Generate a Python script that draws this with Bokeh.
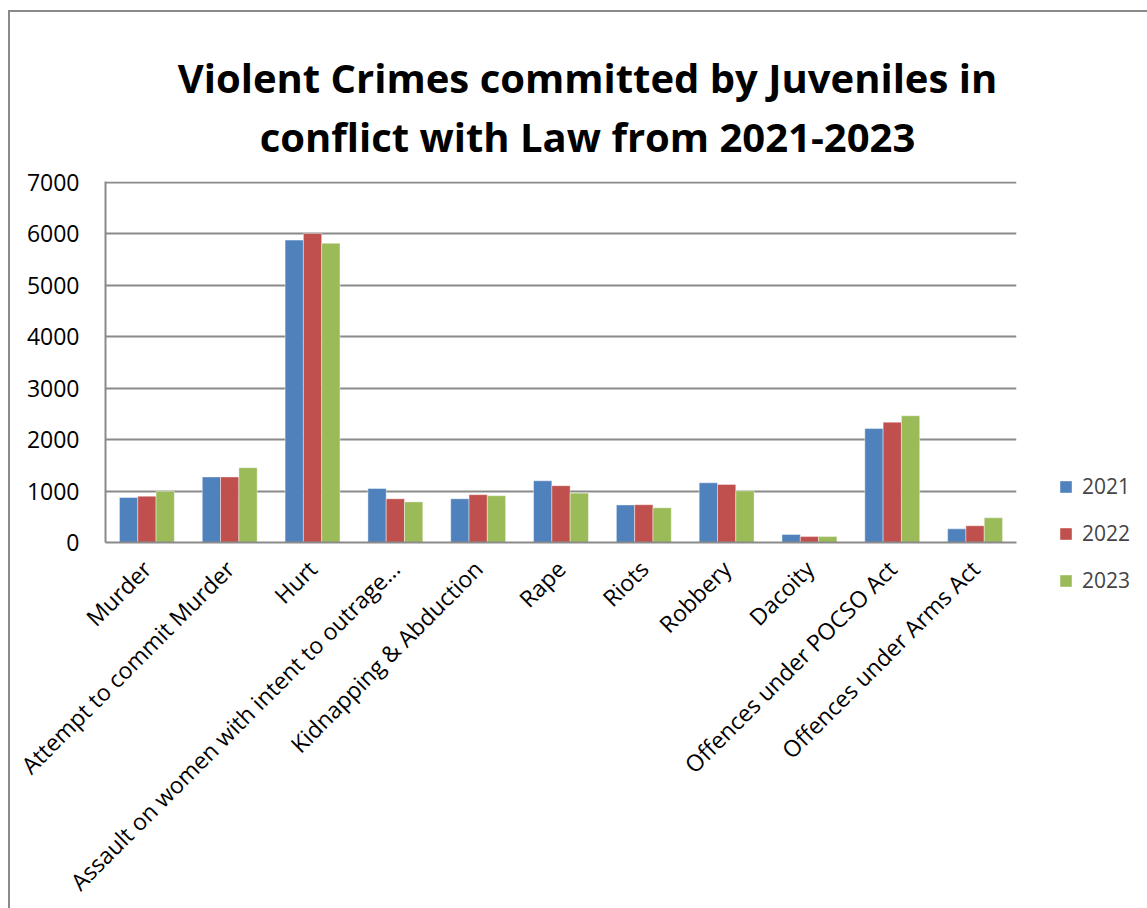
import math
from bokeh.plotting import figure
from bokeh.models import (ColumnDataSource, FactorRange, Legend, LegendItem, Label,
                          FixedTicker)
from bokeh.transform import dodge
from bokeh.embed import file_html
from bokeh.resources import INLINE

categories = ["Murder", "Attempt to commit Murder", "Hurt",
              "Assault on women with intent to outrage\u2026",
              "Kidnapping & Abduction", "Rape", "Riots", "Robbery", "Dacoity",
              "Offences under POCSO Act", "Offences under Arms Act"]
years = ["2021", "2022", "2023"]
v2021 = [875, 1275, 5880, 1050, 850, 1200, 730, 1160, 155, 2215, 265]
v2022 = [900, 1275, 6010, 850, 930, 1105, 735, 1130, 115, 2340, 325]
v2023 = [995, 1455, 5820, 790, 910, 960, 675, 1005, 115, 2465, 480]
colors = ["#4F81BD", "#C0504D", "#9BBB59"]
y_ticks = [0, 1000, 2000, 3000, 4000, 5000, 6000, 7000]
title_lines = ["Violent Crimes committed by Juveniles in",
               "conflict with Law from 2021-2023"]

FONT = "Open Sans"
# canvas starts at page (10, 12) because of the CSS margin + border
W, H = 1130, 892
FL, FR, FT, FB = 95, 1006, 169, 530  # frame edges in canvas pixels
YMAX = 7020

src = ColumnDataSource(dict(cat=categories, y2021=v2021, y2022=v2022, y2023=v2023))

p = figure(x_range=FactorRange(*categories), y_range=(0, YMAX),
           width=W, height=H, frame_width=FR - FL, frame_height=FB - FT,
           output_backend="svg", toolbar_location=None,
           min_border_left=FL, min_border_right=W - FR,
           min_border_top=FT, min_border_bottom=H - FB)
p.styles = {"margin-left": "8px", "margin-top": "10px",
            "border-left": "2px solid #8a8a8a", "border-top": "2px solid #8a8a8a"}
p.outline_line_color = None
p.background_fill_color = "white"
p.border_fill_color = "white"

bw = 0.221
renderers = []
for i, (yr, col) in enumerate(zip(years, colors)):
    r = p.vbar(x=dodge("cat", (i - 1) * bw, range=p.x_range), top="y" + yr,
               width=bw, source=src, fill_color=col,
               line_color="white", line_width=0.6, line_alpha=0.7)
    renderers.append(r)

# axes
p.yaxis.ticker = FixedTicker(ticks=y_ticks)
p.yaxis.axis_line_color = "#8a8a8a"
p.yaxis.axis_line_width = 2
p.yaxis.major_tick_line_color = None
p.yaxis.minor_tick_line_color = None
p.yaxis.major_label_standoff = 20
p.yaxis.major_label_text_font = FONT
p.yaxis.major_label_text_font_size = "23px"
p.yaxis.major_label_text_color = "black"

p.xaxis.axis_line_color = "#8a8a8a"
p.xaxis.axis_line_width = 2
p.xaxis.major_tick_line_color = None
p.xaxis.minor_tick_line_color = None
p.xaxis.major_label_orientation = math.pi / 4
p.xaxis.major_label_standoff = 16
p.xaxis.major_label_text_font = FONT
p.xaxis.major_label_text_font_size = "23px"
p.xaxis.major_label_text_color = "black"

p.xgrid.grid_line_color = None
p.ygrid.grid_line_color = "#8a8a8a"
p.ygrid.grid_line_width = 2

# title lines, in canvas units (y measured from the top), placed in the above panel
for txt, base in zip(title_lines, [63, 122]):
    p.add_layout(Label(x=575, y=base, x_units="canvas", y_units="canvas", text=txt,
                       text_align="center", text_baseline="alphabetic",
                       text_font=FONT, text_font_style="bold",
                       text_font_size="40px", text_color="black"), "above")

legend = Legend(items=[LegendItem(label=yr, renderers=[r]) for yr, r in zip(years, renderers)],
                location=(42, -52), orientation="vertical",
                border_line_color=None, background_fill_alpha=0,
                padding=10, margin=0, spacing=19,
                glyph_width=15, glyph_height=15, label_height=28,
                label_standoff=9, label_text_font=FONT,
                label_text_font_size="21px")
p.add_layout(legend, "right")

open("out.html", "w").write(file_html(p, INLINE))
